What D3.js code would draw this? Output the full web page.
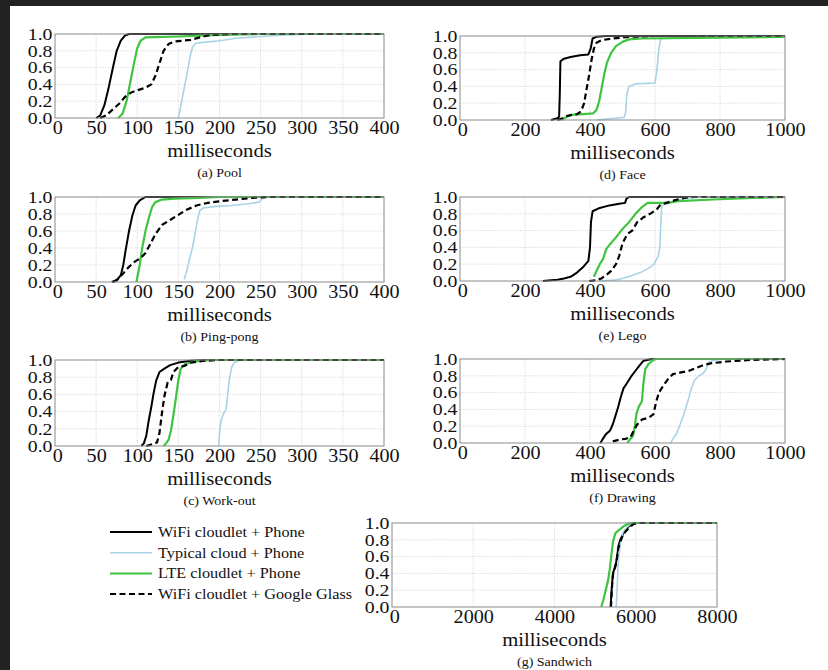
<!DOCTYPE html>
<html>
<head>
<meta charset="utf-8">
<script src="https://cdn.jsdelivr.net/npm/d3@7"></script>
<style>
  body { margin: 0; background: #fff; }
  svg text { font-family: "Liberation Serif", "Times New Roman", serif; fill: #111; }
</style>
</head>
<body>
<svg id="chart" width="828" height="670"></svg>
<script>
// CDF points [milliseconds, fraction]
const poolWifi = [[50,0],[55,0.03],[60,0.15],[65,0.35],[70,0.58],[75,0.8],[80,0.92],[85,0.98],[90,1],[400,1]];
const poolCloud = [[150,0],[152,0.1],[155,0.25],[158,0.4],[161,0.55],[164,0.72],[167,0.84],[171,0.89],[180,0.9],[200,0.92],[220,0.95],[250,0.97],[280,0.99],[320,1],[400,1]];
const poolLte = [[77,0],[82,0.05],[87,0.2],[92,0.45],[96,0.65],[100,0.83],[104,0.92],[110,0.96],[150,0.97],[200,0.99],[250,1],[400,1]];
const poolGlass = [[55,0],[62,0.03],[70,0.1],[78,0.17],[85,0.25],[92,0.3],[100,0.33],[110,0.36],[117,0.4],[122,0.5],[127,0.65],[132,0.8],[138,0.88],[145,0.91],[155,0.92],[165,0.93],[176,0.96],[190,0.99],[215,1],[400,1]];

const pingWifi = [[69,0],[75,0.02],[80,0.08],[83,0.2],[86,0.38],[90,0.6],[94,0.78],[98,0.9],[103,0.96],[110,1],[400,1]];
const pingCloud = [[157,0.03],[160,0.12],[163,0.25],[167,0.4],[170,0.55],[173,0.72],[176,0.84],[180,0.87],[195,0.89],[215,0.9],[235,0.92],[248,0.94],[252,0.98],[256,1],[400,1]];
const pingLte = [[99,0],[101,0.1],[103,0.2],[106,0.4],[110,0.6],[114,0.75],[118,0.88],[122,0.94],[130,0.97],[145,0.98],[175,0.99],[200,1],[400,1]];
const pingGlass = [[71,0],[76,0.03],[82,0.09],[90,0.18],[97,0.24],[104,0.28],[110,0.34],[116,0.45],[122,0.56],[130,0.67],[140,0.73],[150,0.79],[160,0.85],[172,0.9],[185,0.93],[200,0.95],[220,0.97],[240,0.99],[260,1],[400,1]];

const workWifi = [[105,0],[108,0.03],[111,0.12],[114,0.3],[117,0.45],[120,0.62],[123,0.76],[127,0.86],[133,0.9],[140,0.94],[150,0.97],[165,0.99],[185,1],[400,1]];
const workCloud = [[199,0],[200,0.15],[202,0.3],[205,0.38],[208,0.42],[210,0.6],[212,0.78],[215,0.92],[218,0.97],[225,1],[400,1]];
const workLte = [[132,0],[135,0.03],[138,0.07],[141,0.18],[144,0.36],[147,0.56],[150,0.77],[153,0.9],[158,0.95],[168,0.98],[190,1],[400,1]];
const workGlass = [[111,0],[118,0.02],[124,0.04],[127,0.15],[130,0.38],[133,0.58],[137,0.74],[141,0.77],[144,0.86],[150,0.92],[157,0.93],[165,0.97],[180,0.99],[200,1],[400,1]];

const faceWifi = [[280,0],[300,0.02],[305,0.04],[307,0.3],[309,0.7],[320,0.73],[340,0.75],[370,0.77],[395,0.78],[402,0.85],[408,0.97],[420,0.99],[450,1],[1000,1]];
const faceCloud = [[420,0],[450,0.01],[505,0.03],[510,0.1],[513,0.3],[520,0.4],[540,0.43],[600,0.44],[606,0.6],[612,0.85],[618,0.97],[700,0.98],[1000,0.99]];
const faceLte = [[310,0],[340,0.06],[380,0.07],[410,0.08],[420,0.12],[428,0.22],[436,0.38],[444,0.55],[452,0.68],[465,0.8],[480,0.88],[500,0.93],[520,0.96],[560,0.97],[800,0.98],[1000,0.99]];
const faceGlass = [[300,0],[315,0.02],[330,0.05],[360,0.07],[372,0.1],[382,0.2],[390,0.38],[398,0.55],[405,0.72],[412,0.85],[420,0.92],[435,0.95],[470,0.97],[520,0.99],[600,1],[1000,1]];

const legoWifi = [[255,0],[280,0.01],[300,0.015],[320,0.03],[340,0.05],[360,0.1],[380,0.17],[395,0.24],[400,0.4],[403,0.7],[408,0.83],[430,0.87],[460,0.9],[490,0.92],[508,0.93],[512,0.98],[520,1],[1000,1]];
const legoCloud = [[430,0],[475,0.01],[500,0.03],[525,0.06],[555,0.1],[580,0.15],[597,0.2],[610,0.3],[615,0.4],[618,0.7],[621,0.9],[640,0.92],[660,0.95],[700,0.99],[750,1],[1000,1]];
const legoLte = [[412,0.05],[420,0.12],[430,0.2],[440,0.26],[450,0.38],[460,0.43],[480,0.52],[500,0.62],[520,0.7],[540,0.8],[560,0.88],[577,0.93],[640,0.93],[670,0.95],[780,0.97],[900,0.99],[1000,1]];
const legoGlass = [[398,0],[420,0.01],[435,0.03],[450,0.07],[465,0.12],[480,0.2],[490,0.3],[500,0.45],[515,0.56],[530,0.6],[545,0.7],[565,0.76],[585,0.8],[605,0.85],[615,0.9],[635,0.93],[660,0.96],[690,0.99],[720,1],[1000,1]];

const drawWifi = [[432,0],[438,0.04],[448,0.1],[462,0.15],[470,0.22],[478,0.32],[486,0.42],[495,0.55],[503,0.65],[515,0.72],[528,0.8],[540,0.86],[552,0.92],[565,0.98],[590,1],[1000,1]];
const drawCloud = [[648,0],[655,0.05],[665,0.1],[675,0.2],[685,0.3],[695,0.42],[705,0.55],[712,0.65],[722,0.75],[735,0.8],[745,0.82],[755,0.86],[762,0.93],[768,0.97],[790,0.99],[820,1],[1000,1]];
const drawLte = [[515,0],[522,0.04],[532,0.08],[538,0.2],[543,0.35],[550,0.43],[560,0.5],[564,0.7],[570,0.88],[580,0.94],[595,0.99],[605,1],[1000,1]];
const drawGlass = [[470,0.02],[490,0.04],[510,0.05],[525,0.07],[535,0.15],[545,0.22],[560,0.28],[580,0.3],[595,0.34],[603,0.48],[612,0.6],[625,0.68],[640,0.76],[655,0.82],[680,0.84],[705,0.86],[725,0.89],[750,0.93],[775,0.95],[820,0.97],[900,0.99],[1000,1]];

const sandWifi = [[5380,0],[5400,0.15],[5420,0.3],[5450,0.42],[5500,0.48],[5540,0.6],[5580,0.74],[5620,0.8],[5700,0.88],[5800,0.95],[5900,0.98],[6000,1],[8000,1]];
const sandCloud = [[5520,0],[5540,0.2],[5560,0.45],[5580,0.6],[5620,0.75],[5680,0.88],[5780,0.95],[5880,0.99],[5950,1],[8000,1]];
const sandLte = [[5150,0],[5200,0.08],[5260,0.2],[5320,0.32],[5360,0.45],[5400,0.62],[5440,0.78],[5500,0.88],[5600,0.92],[5700,0.96],[5800,0.99],[5900,1],[8000,1]];
const sandGlass = [[5390,0],[5410,0.2],[5440,0.4],[5480,0.46],[5530,0.55],[5570,0.7],[5620,0.78],[5680,0.85],[5750,0.9],[5850,0.95],[5950,0.99],[6050,1],[8000,1]];

const seriesNames = ["WiFi cloudlet + Phone", "Typical cloud + Phone", "LTE cloudlet + Phone", "WiFi cloudlet + Google Glass"];
const yTicks = [0, 0.2, 0.4, 0.6, 0.8, 1.0];
const smallTicks = [0, 50, 100, 150, 200, 250, 300, 350, 400];
const midTicks = [0, 200, 400, 600, 800, 1000];
const bigTicks = [0, 2000, 4000, 6000, 8000];

// series styles, same order as seriesNames
const styles = [
  { color: "#000", width: 2, dash: null },
  { color: "#a9d3e6", width: 1.6, dash: null },
  { color: "#3fc43f", width: 2.2, dash: null },
  { color: "#000", width: 2.2, dash: "6,3.5" }
];

const panels = [
  { caption: "(a) Pool", x: 55, y: 34, w: 329, h: 84, max: 400, ticks: smallTicks, series: [poolWifi, poolCloud, poolLte, poolGlass] },
  { caption: "(b) Ping-pong", x: 55, y: 197, w: 329, h: 85, max: 400, ticks: smallTicks, series: [pingWifi, pingCloud, pingLte, pingGlass] },
  { caption: "(c) Work-out", x: 55, y: 360, w: 329, h: 86, max: 400, ticks: smallTicks, series: [workWifi, workCloud, workLte, workGlass] },
  { caption: "(d) Face", x: 460, y: 36, w: 325, h: 84, max: 1000, ticks: midTicks, series: [faceWifi, faceCloud, faceLte, faceGlass] },
  { caption: "(e) Lego", x: 460, y: 197, w: 325, h: 84, max: 1000, ticks: midTicks, series: [legoWifi, legoCloud, legoLte, legoGlass] },
  { caption: "(f) Drawing", x: 460, y: 359, w: 325, h: 84, max: 1000, ticks: midTicks, series: [drawWifi, drawCloud, drawLte, drawGlass] },
  { caption: "(g) Sandwich", x: 392, y: 523, w: 325, h: 84, max: 8000, ticks: bigTicks, series: [sandWifi, sandCloud, sandLte, sandGlass] }
];

const sx = 1.12; // the figure text is a little wider than the font
const svg = d3.select("#chart");

// dark frame of the screenshot
svg.append("rect").attr("width", 828).attr("height", 6).attr("fill", "#222");
svg.append("rect").attr("width", 10).attr("height", 670).attr("fill", "#222");

panels.forEach(function (p) {
  const g = svg.append("g").attr("transform", `translate(${p.x},${p.y})`);
  const x = d3.scaleLinear().domain([0, p.max]).range([0, p.w]);
  const y = d3.scaleLinear().domain([0, 1]).range([p.h, 0]);

  // dotted grid
  g.append("g")
    .selectAll("line.v")
    .data(p.ticks.slice(1, -1))
    .join("line")
    .attr("x1", d => x(d)).attr("x2", d => x(d))
    .attr("y1", 0).attr("y2", p.h)
    .attr("stroke", "#c8c8c8").attr("stroke-width", 0.8).attr("stroke-dasharray", "1,1.5");
  g.append("g")
    .selectAll("line.h")
    .data(yTicks.slice(1, -1))
    .join("line")
    .attr("x1", 0).attr("x2", p.w)
    .attr("y1", d => y(d)).attr("y2", d => y(d))
    .attr("stroke", "#c8c8c8").attr("stroke-width", 0.8).attr("stroke-dasharray", "1,1.5");

  const line = d3.line().x(d => x(d[0])).y(d => y(d[1]));

  p.series.forEach(function (s, i) {
    const st = styles[i];
    g.append("path")
      .datum(s)
      .attr("d", line)
      .attr("fill", "none")
      .attr("stroke", st.color)
      .attr("stroke-width", st.width)
      .attr("stroke-dasharray", st.dash)
      .attr("stroke-linejoin", "round");
  });

  // frame
  g.append("rect")
    .attr("width", p.w).attr("height", p.h)
    .attr("fill", "none").attr("stroke", "#8a8a8a").attr("stroke-width", 1);

  const xAxis = g.append("g")
    .attr("transform", `translate(0,${p.h})`)
    .call(d3.axisBottom(x).tickValues(p.ticks).tickSize(0).tickPadding(3).tickFormat(d3.format("d")));
  const yAxis = g.append("g")
    .call(d3.axisLeft(y).tickValues(yTicks).tickSize(0).tickPadding(3).tickFormat(d3.format(".1f")));
  [xAxis, yAxis].forEach(function (a) {
    a.select(".domain").remove();
    a.selectAll("text")
      .attr("font-size", 18)
      .attr("font-family", "Liberation Serif, serif")
      .attr("fill", "#111");
  });
  xAxis.selectAll("text").attr("transform", `scale(${sx},1)`);
  xAxis.selectAll(".tick").filter(d => d === 0).select("text").attr("x", 2);
  // y labels sit close together, as in the figure
  yAxis.selectAll("text")
    .attr("font-size", 16.5)
    .attr("x", -2.5 / 1.2)
    .attr("transform", "scale(1.2,1)");

  g.append("text")
    .attr("transform", `translate(${p.w / 2},${p.h + 39}) scale(${sx},1)`)
    .attr("text-anchor", "middle")
    .attr("font-size", 18.5)
    .text("milliseconds");

  g.append("text")
    .attr("transform", `translate(${p.w / 2},${p.h + 58.5}) scale(${sx},1)`)
    .attr("text-anchor", "middle")
    .attr("font-size", 12.5)
    .text(p.caption);
});

// legend
const legend = svg.append("g").attr("transform", "translate(110,532)");
seriesNames.forEach(function (name, i) {
  const st = styles[i];
  const row = legend.append("g").attr("transform", `translate(0,${i * 20.7})`);
  row.append("line")
    .attr("x1", 0).attr("x2", 42)
    .attr("stroke", st.color)
    .attr("stroke-width", i === 1 ? 1.4 : 2)
    .attr("stroke-dasharray", st.dash);
  row.append("text")
    .attr("transform", `translate(48,0) scale(${sx},1)`)
    .attr("dy", "0.35em")
    .attr("font-size", 14.5)
    .text(name);
});
</script>
</body>
</html>
